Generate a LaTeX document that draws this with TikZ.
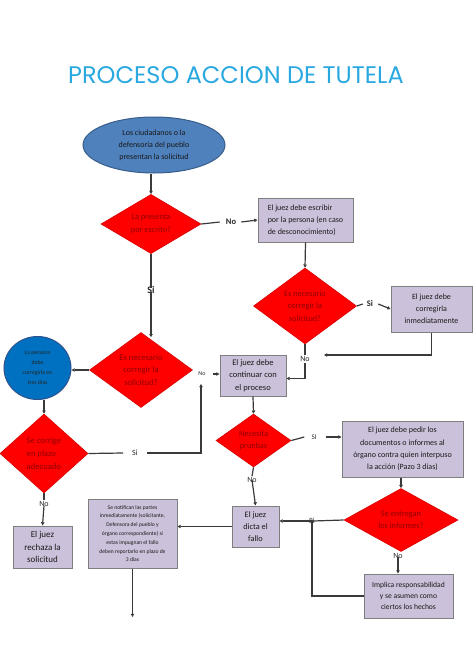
\documentclass[tikz,border=0pt]{standalone}
\usepackage{fontspec}
\setmainfont{Carlito}
\newfontfamily\titlefont{Poppins}
\usetikzlibrary{shapes.geometric,arrows.meta}
\definecolor{titleblue}{HTML}{2AA8E0}
\definecolor{ellfill}{HTML}{4F81BD}
\definecolor{elldraw}{HTML}{385D8A}
\definecolor{circfill}{HTML}{0070C0}
\definecolor{circdraw}{HTML}{2F528F}
\definecolor{boxfill}{HTML}{CCC1DA}
\definecolor{boxdraw}{HTML}{7F7F7F}
\definecolor{dtext}{HTML}{8E0000}
\definecolor{linec}{HTML}{3A3A3A}
\tikzset{
  boxnode/.style={rectangle, fill=boxfill, draw=boxdraw, line width=1pt, align=center, inner sep=1pt, font=\fontsize{8}{12}\selectfont, text=black!90},
  decision/.style={diamond, fill=red, draw=red!85!black, line width=0.6pt, inner sep=0pt, align=center, text=dtext, font=\fontsize{8.3}{12.5}\selectfont},
  lbl/.style={inner sep=1pt, font=\fontsize{8}{9}\selectfont, text=black!85},
  lblb/.style={inner sep=1pt, font=\bfseries\fontsize{8.5}{10}\selectfont, text=black!85},
  conn/.style={draw=linec, line width=1.2pt},
  arr/.style={conn, -{Triangle[length=3.2pt,width=3.4pt]}}
}
\begin{document}
\begin{tikzpicture}[x=1pt,y=-1pt]
\useasboundingbox[fill=white] (0,0) rectangle (474,670);

\node[font=\titlefont\fontsize{24}{28}\selectfont, text=titleblue] (title) at (236,75) {PROCESO ACCION DE TUTELA};

% top
\node[ellipse, fill=ellfill, draw=elldraw, line width=1pt, minimum width=142pt, minimum height=56pt, inner sep=0pt, align=center, font=\fontsize{8}{12}\selectfont, text=black!90] (ell) at (154,145) {Los ciudadanos o la\\defensoria del pueblo\\presentan la solicitud};
\node[decision, minimum width=100pt, minimum height=51pt] (d1) at (151,224) {La presenta\\por escrito?};
\node[lblb] (no1) at (231,222) {No};
\node[boxnode, minimum width=95pt, minimum height=44pt, align=left] (b1) at (305.5,220) {El juez debe escribir\\por la persona (en caso\\de desconocimiento)};
\node[lblb, font=\bfseries\fontsize{10}{11}\selectfont] (si1) at (151,290) {Si};

\node[decision, minimum width=103pt, minimum height=76pt] (d3) at (305,306) {Es necesario\\corregir la\\solicitud?};
\node[lblb] (si2) at (370,304) {Si};
\node[boxnode, minimum width=81pt, minimum height=46pt] (b2) at (431.5,309) {El juez debe\\corregirla\\inmediatamente};
\coordinate (j1) at (324,355);
\node[lbl] (no3) at (305,359) {No};

\node[decision, minimum width=103pt, minimum height=75pt, font=\fontsize{8.6}{12.5}\selectfont] (d2) at (141,370) {Es necesario\\corregir la\\solicitud?};
\node[ellipse, fill=circfill, draw=circdraw, line width=1pt, minimum width=67pt, minimum height=63pt, inner sep=0pt, align=center, font=\fontsize{5.8}{10}\selectfont, text=black!85] (c1) at (37.5,368) {La persona\\debe\\corregirla en\\tres dias};
\node[boxnode, minimum width=66pt, minimum height=41pt, font=\fontsize{8.5}{12.3}\selectfont] (b3) at (253,375.5) {El juez debe\\continuar con\\el proceso};
\node[lbl, font=\fontsize{6}{7}\selectfont] (no2) at (202,374) {No};
\coordinate (up1) at (201,384);

\node[decision, minimum width=88pt, minimum height=79pt, align=left, font=\fontsize{8.6}{13}\selectfont] (d4) at (44,453.5) {Se corrige\\en plazo\\adecuado};
\node[lbl] (si4) at (135,453) {Si};
\node[lbl] (no5) at (44,504) {No};
\node[boxnode, minimum width=59pt, minimum height=42pt, font=\fontsize{9}{12.3}\selectfont] (b4) at (42.5,547) {El juez\\rechaza la\\solicitud};

\node[decision, minimum width=75pt, minimum height=53pt] (d5) at (253.5,440.5) {Necesita\\pruebas};
\node[lbl, font=\fontsize{7}{8}\selectfont] (si6) at (314,437) {SI};
\node[boxnode, minimum width=121pt, minimum height=56pt, font=\fontsize{8}{12.3}\selectfont] (b5) at (402.5,449) {El juez debe pedir los\\documentos o informes al\\órgano contra quien interpuso\\la acción (Pazo 3 dias)};
\node[decision, minimum width=114pt, minimum height=54pt] (d6) at (401,520) {Se entregan\\los informes?};
\node[lbl] (si7) at (312,521) {Si};
\node[boxnode, minimum width=47pt, minimum height=41pt, font=\fontsize{8.3}{12}\selectfont] (b6) at (255.5,526.5) {El juez\\dicta el\\fallo};
\node[lbl] (no8) at (252,480) {No};
\node[lbl] (no9) at (398,556) {No};
\node[boxnode, minimum width=89pt, minimum height=44pt, font=\fontsize{7.6}{11}\selectfont] (b7) at (408.5,596) {Implica responsabilidad\\y se asumen como\\ciertos los hechos};
\node[boxnode, minimum width=89pt, minimum height=69pt, font=\fontsize{5.6}{8.8}\selectfont] (b8) at (132.5,533.5) {Se notifican las partes\\inmediatamente (solicitante,\\Defensora del pueblo y\\órgano correspondiente) si\\estas impugnan el fallo\\deben reportarlo en plazo de\\3 dias};
\coordinate (endb8) at (132.5,617);

% connectors
\draw[arr] (d1.north |- ell.south) -- (d1.north);
\draw[conn] (d1.east) -- ([xshift=-5pt]no1.west);
\draw[arr] ([xshift=4pt]no1.east) -- (b1.west);
\draw[conn] (d1.south) -- ([yshift=-3pt]si1.north);
\draw[arr] ([yshift=3pt]si1.south) -- ([yshift=-5pt]si1.south |- d2.north);
\draw[arr] (b1.south) -- (d3.north);
\draw[conn] (d3.east) -- ([xshift=-3pt]si2.west);
\draw[arr] ([xshift=4pt]si2.east) -- (b2.west);
\draw[arr] (b2.south) |- (j1);
\draw[conn] (d3.south) -- (no3.north);
\draw[arr] (no3.south) |- ([yshift=-3pt]b3.east);
\draw[arr] (d2.west) -- (d2.west -| c1.east);
\draw[arr] (d4.north |- c1.south) -- (d4.north);
\draw[conn] (d4.east) -- ([xshift=-8pt]si4.west);
\draw[arr] ([xshift=8pt]si4.east) -| (up1);
\draw[arr] ([xshift=6pt]no2.east) -- (no2.east -| b3.west);
\draw[conn] (d4.south) -- (no5.north);
\draw[arr] ([yshift=2pt]no5.south) -- (b4.north);
\draw[arr] (b3.south) -- (d5.north);
\draw[conn] (d5.east) -- ([xshift=-6pt]si6.west);
\draw[arr] ([xshift=8pt]si6.east) -- (si6.east -| b5.west);
\draw[arr] (d6.north |- b5.south) -- (d6.north);
\draw[conn] (d6.west) -- ([xshift=-3pt]si7.east);
\draw[arr] ([xshift=4pt]si7.west) -- (si7.west -| b6.east);
\draw[conn] (d5.south) -- (no8.north);
\draw[arr] ([yshift=4pt]no8.south) -- (b6.north);
\draw[arr] ([yshift=3pt]no9.south) -- (no9.south |- b7.north);
\draw[arr] (b7.west) -| ([yshift=6pt]si7.south);
\draw[arr] (b6.west) -- (b6.west -| b8.east);
\draw[arr] (b8.south) -- (endb8);
\end{tikzpicture}
\end{document}
